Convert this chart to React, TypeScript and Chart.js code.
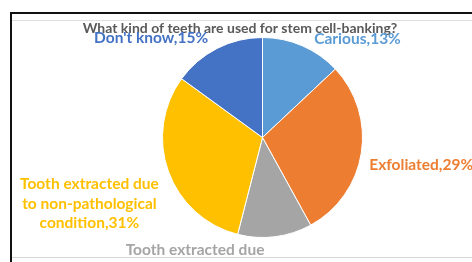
import React, { useEffect, useRef } from "react";
import { Chart, registerables } from "chart.js";

Chart.register(...registerables);

const TITLE = "What kind of teeth are used for stem cell-banking?";
const categories = [
  "Carious",
  "Exfoliated",
  "Tooth extracted due\nto pathological\ncondition",
  "Tooth extracted due\nto non-pathological\ncondition",
  "Don't know",
];
const percents = [13, 29, 12, 31, 15];
const colors = ["#5B9BD5", "#ED7D31", "#A5A5A5", "#FFC000", "#4472C4"];
// label placement relative to each slice's outer mid point
const labelLayout = [
  { align: "left", dx: 12, dy: -7 },
  { align: "left", dx: 8, dy: 12 },
  { align: "center", dx: -80, dy: 13 },
  { align: "center", dx: -79, dy: 13 },
  { align: "center", dx: -66, dy: -10 },
];

const FONT = "Lato, 'Open Sans', sans-serif";

const labelPlugin = {
  id: "sliceLabels",
  afterDatasetsDraw(chart: any) {
    const ctx = chart.ctx;
    const meta = chart.getDatasetMeta(0);
    ctx.save();
    // title
    ctx.font = `bold 14px ${FONT}`;
    ctx.fillStyle = "#595959";
    ctx.textAlign = "center";
    ctx.textBaseline = "middle";
    ctx.fillText(TITLE, 240, 28);
    // labels
    ctx.font = `bold 15.5px ${FONT}`;
    meta.data.forEach((arc: any, i: number) => {
      const p = arc.getProps(["x", "y", "startAngle", "endAngle", "outerRadius"], true);
      const mid = (p.startAngle + p.endAngle) / 2;
      const ox = p.x + Math.cos(mid) * p.outerRadius;
      const oy = p.y + Math.sin(mid) * p.outerRadius;
      const lay = labelLayout[i];
      const text = `${categories[i]},${percents[i]}%`;
      const lines = text.split("\n");
      ctx.fillStyle = colors[i];
      ctx.textAlign = lay.align;
      ctx.textBaseline = "middle";
      lines.forEach((ln, k) => {
        ctx.fillText(ln, ox + lay.dx, oy + lay.dy + k * 19.5);
      });
    });
    ctx.restore();
  },
};

export default function App() {
  const ref = useRef<HTMLCanvasElement>(null);
  useEffect(() => {
    if (!ref.current) return;
    const chart = new Chart(ref.current, {
      type: "pie",
      data: {
        labels: categories,
        datasets: [
          {
            data: percents,
            backgroundColor: colors,
            borderColor: "#ffffff",
            borderWidth: 1,
          },
        ],
      },
      options: {
        responsive: false,
        animation: false,
        layout: { padding: { left: 162, right: 109, top: 37, bottom: 19 } },
        plugins: {
          legend: { display: false },
          title: { display: false },
          tooltip: { enabled: false },
        },
      },
      plugins: [labelPlugin],
    });
    return () => chart.destroy();
  }, []);

  return (
    <div
      style={{
        position: "fixed",
        left: 0,
        top: 0,
        width: 472,
        height: 262,
        background: "#fff",
        overflow: "hidden",
      }}
    >
      <canvas
        ref={ref}
        width={472}
        height={257}
        style={{ position: "absolute", left: 0, top: 0, width: 472, height: 257 }}
      />
      <div style={{ position: "absolute", left: 10, top: 12, width: 462, height: 2, background: "#111" }} />
      <div style={{ position: "absolute", left: 10, top: 12, width: 2, height: 250, background: "#111" }} />
      <div style={{ position: "absolute", left: 12, top: 20, width: 460, height: 1, background: "#e0e0e0" }} />
      <div style={{ position: "absolute", left: 12, top: 257, width: 460, height: 1, background: "#d6d6d6" }} />
    </div>
  );
}
